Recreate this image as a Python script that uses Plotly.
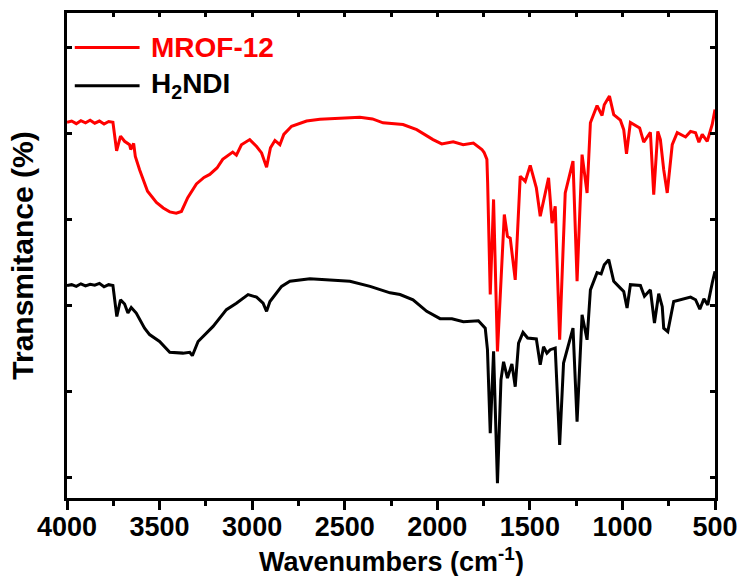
import plotly.graph_objects as go

# FT-IR spectra: wavenumber (cm^-1) and transmittance (offset, arbitrary scale)
wn_mrof = [4000, 3975, 3950, 3925, 3900, 3875, 3850, 3825, 3800, 3775, 3752,
           3732, 3711, 3689, 3662, 3656, 3640, 3631, 3608, 3565, 3517, 3480,
           3445, 3410, 3382, 3348, 3301, 3260, 3229, 3190, 3159, 3105, 3085,
           3058, 3013, 2976, 2949, 2922, 2901, 2877, 2850, 2829, 2787, 2706,
           2634, 2520, 2418, 2350, 2293, 2185, 2111, 2023, 1976, 1914, 1860,
           1805, 1759, 1747, 1732, 1728, 1714, 1696, 1675, 1638, 1621, 1606,
           1579, 1552, 1525, 1498, 1465, 1444, 1399, 1380, 1363, 1339, 1309,
           1267, 1245, 1218, 1191, 1173, 1137, 1110, 1098, 1070, 1047, 1011,
           993, 978, 957, 907, 885, 849, 831, 809, 795, 777, 758, 731, 704,
           659, 632, 605, 587, 569, 542, 515, 500]
t_mrof = [82.6, 82.9, 82.3, 83.0, 82.5, 83.1, 82.4, 82.9, 82.2, 82.8, 82.6,
          76.0, 79.4, 78.2, 77.4, 76.3, 77.7, 74.7, 71.6, 66.6, 64.0, 62.7,
          61.8, 61.5, 61.9, 65.1, 68.3, 69.8, 70.5, 72.0, 74.0, 75.7, 75.0,
          77.4, 78.6, 77.0, 75.5, 72.2, 76.7, 78.4, 77.4, 79.8, 81.7, 82.9,
          83.3, 83.6, 83.8, 83.4, 82.5, 82.1, 80.9, 78.6, 77.6, 78.1, 77.4,
          77.8, 76.3, 75.6, 74.0, 68.6, 42.6, 64.7, 29.4, 61.2, 56.1, 55.7,
          46.0, 70.1, 68.9, 72.6, 67.4, 60.8, 69.7, 59.2, 63.1, 32.1, 66.2,
          73.6, 45.7, 75.1, 66.2, 82.5, 86.5, 84.2, 86.7, 88.7, 84.4, 83.1,
          80.9, 75.3, 82.6, 81.3, 78.0, 80.3, 65.8, 80.5, 78.6, 71.6, 66.2,
          77.4, 80.2, 79.2, 80.5, 80.2, 78.0, 79.8, 78.2, 82.1, 85.6]

wn_h2ndi = [4000, 3975, 3950, 3925, 3900, 3875, 3850, 3825, 3800, 3775, 3752,
            3731, 3711, 3689, 3671, 3653, 3626, 3581, 3554, 3500, 3445, 3374,
            3337, 3323, 3292, 3265, 3211, 3139, 3085, 3022, 2976, 2941, 2922,
            2904, 2868, 2841, 2796, 2706, 2688, 2580, 2472, 2363, 2255, 2201,
            2131, 2057, 1985, 1921, 1859, 1778, 1741, 1729, 1714, 1696, 1675,
            1656, 1642, 1621, 1597, 1579, 1561, 1537, 1512, 1465, 1444, 1426,
            1408, 1390, 1363, 1339, 1318, 1267, 1245, 1218, 1191, 1173, 1137,
            1115, 1098, 1074, 1047, 1011, 993, 975, 957, 903, 881, 849, 827,
            804, 785, 777, 755, 723, 669, 632, 605, 582, 560, 539, 515, 500]
t_h2ndi = [44.7, 44.9, 44.5, 45.1, 44.6, 45.0, 44.8, 45.2, 44.4, 44.9, 44.7,
           37.5, 41.4, 40.4, 38.3, 39.6, 38.3, 34.8, 33.3, 31.7, 29.2, 29.0,
           29.2, 28.4, 31.7, 32.9, 35.2, 39.1, 40.6, 42.6, 42.0, 40.6, 38.7,
           41.0, 43.0, 44.5, 45.7, 46.3, 46.3, 46.0, 45.7, 44.5, 43.0, 42.6,
           41.4, 38.7, 37.0, 37.0, 36.3, 36.5, 34.8, 29.8, 10.4, 29.4, -1.2,
           22.8, 27.0, 23.2, 26.5, 21.2, 31.3, 33.8, 32.5, 32.3, 26.3, 30.5,
           29.0, 29.8, 30.2, 7.7, 26.7, 34.8, 13.1, 37.9, 32.1, 43.7, 47.7,
           47.4, 49.5, 50.7, 45.7, 44.1, 43.3, 39.5, 44.9, 44.7, 42.2, 43.7, 36.0,
           42.8, 39.8, 34.8, 34.0, 41.0, 41.6, 42.0, 41.4, 39.2, 41.6, 40.2, 45.3, 48.0]

series_names = ["MROF-12", "H<sub>2</sub>NDI"]
series_colors = ["#ff0000", "#000000"]
x_tick_values = [4000, 3500, 3000, 2500, 2000, 1500, 1000, 500]
x_title = "Wavenumbers (cm<sup>-1</sup>)"
y_title = "Transmitance (%)"

FONT = "Liberation Sans, Arial, sans-serif"

fig = go.Figure()
fig.add_trace(go.Scatter(x=wn_mrof, y=t_mrof, mode="lines", name=series_names[0],
                         line=dict(color=series_colors[0], width=3), showlegend=False))
fig.add_trace(go.Scatter(x=wn_h2ndi, y=t_h2ndi, mode="lines", name=series_names[1],
                         line=dict(color=series_colors[1], width=3), showlegend=False))

# legend block in the upper-left corner
legend_rows = [0.929, 0.850]
for name, color, yy in zip(series_names, series_colors, legend_rows):
    fig.add_shape(type="line", xref="paper", yref="paper",
                  x0=0.012, x1=0.112, y0=yy, y1=yy,
                  line=dict(color=color, width=3))
    fig.add_annotation(xref="paper", yref="paper", x=0.127, y=yy,
                       xanchor="left", yanchor="middle", showarrow=False,
                       text=name,
                       font=dict(family=FONT, size=28, color=color, weight=700))

# x-axis title set as a free annotation under the tick labels
fig.add_annotation(xref="paper", yref="paper", x=0.5, y=-0.127,
                   xanchor="center", yanchor="middle", showarrow=False,
                   text=x_title,
                   font=dict(family=FONT, size=27, color="black", weight=700))

fig.update_layout(
    width=745, height=576,
    margin=dict(l=67, r=30, t=13, b=78, autoexpand=False),
    plot_bgcolor="white", paper_bgcolor="white",
    font=dict(family=FONT, color="black"),
    xaxis=dict(
        range=[4000, 500], tickvals=x_tick_values, automargin=False,
        ticks="outside", ticklen=9, tickwidth=2.5, tickcolor="black",
        ticklabelstandoff=-6,
        minor=dict(dtick=250, ticks="outside", ticklen=5, tickwidth=2.5, tickcolor="black"),
        showline=True, linewidth=3, linecolor="black", mirror=True,
        showgrid=False, zeroline=False,
        tickfont=dict(family=FONT, size=27, weight=700),
    ),
    xaxis2=dict(
        range=[4000, 500], overlaying="x", side="top", anchor="y",
        dtick=250, tick0=500, ticks="inside", ticklen=4, tickwidth=2.5, tickcolor="black",
        showticklabels=False, showgrid=False, zeroline=False, showline=False,
        automargin=False,
    ),
    yaxis=dict(
        range=[-4.65, 108.0], tickvals=[0, 20, 40, 60, 80, 100], automargin=False,
        ticks="inside", ticklen=5, tickwidth=2.5, tickcolor="black",
        showticklabels=False,
        showline=True, linewidth=3, linecolor="black", mirror="ticks",
        showgrid=False, zeroline=False,
        title=dict(text=y_title, standoff=22,
                   font=dict(family=FONT, size=30, weight=700)),
    ),
)

# empty trace bound to the top axis so its ticks are drawn
fig.add_trace(go.Scatter(x=[4000, 500], y=[None, None], xaxis="x2", yaxis="y",
                         mode="lines", showlegend=False, hoverinfo="skip"))

fig.write_html("out.html")
